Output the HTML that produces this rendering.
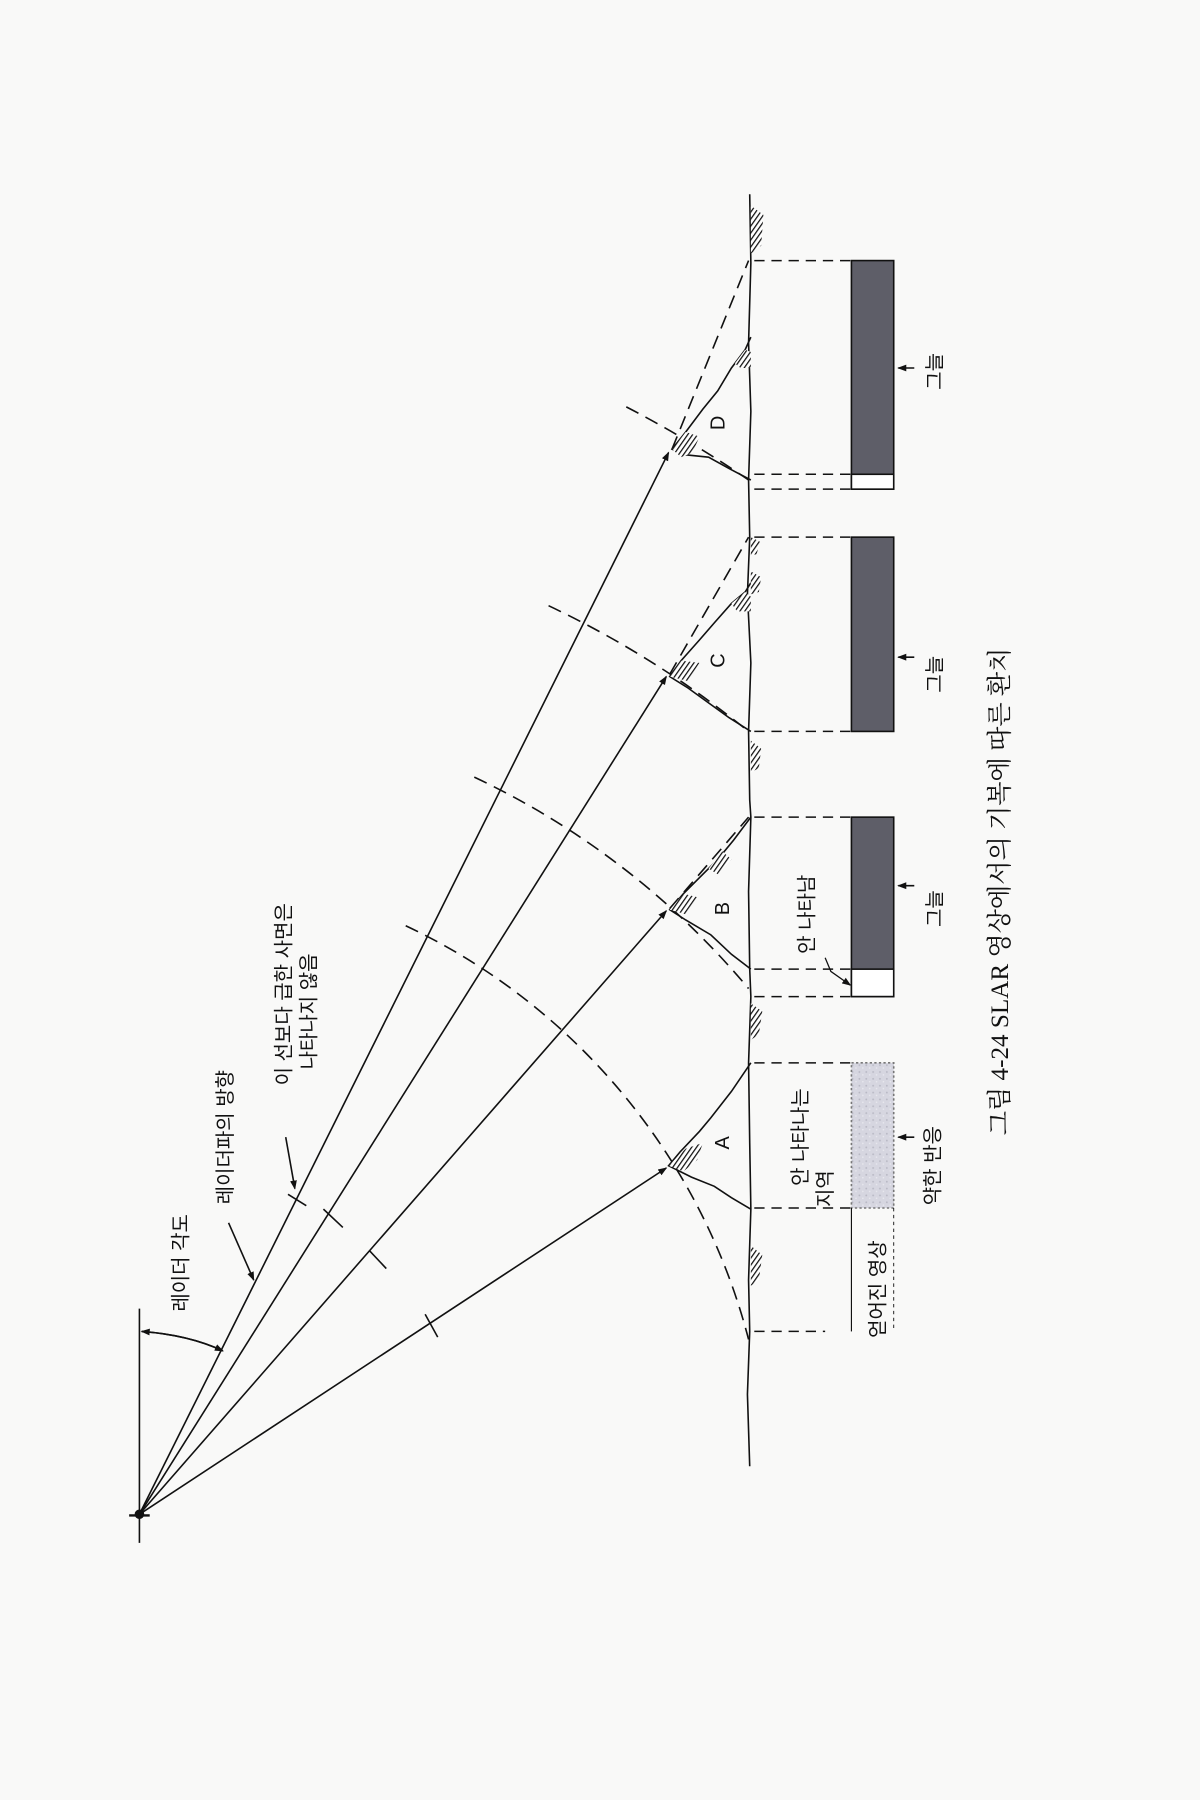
<!DOCTYPE html>
<html><head><meta charset="utf-8"><style>
html,body{margin:0;padding:0;background:#f9f9f8;}
svg{display:block}
text{font-family:"Liberation Sans","Noto Sans CJK KR",sans-serif;fill:#111}
</style></head><body>
<svg width="1200" height="1800" viewBox="0 0 1050 1575" xmlns="http://www.w3.org/2000/svg">
<defs>
<pattern id="h" width="3.5" height="3.5" patternUnits="userSpaceOnUse" patternTransform="rotate(35)">
<rect width="3.5" height="3.5" fill="#fff"/><line x1="0" y1="0" x2="0" y2="3.5" stroke="#111" stroke-width="2.2"/></pattern>
<pattern id="sp" width="6" height="6" patternUnits="userSpaceOnUse">
<rect width="6" height="6" fill="#d6d6e0"/><circle cx="2" cy="2" r="0.8" fill="#b8b8c4"/><circle cx="5" cy="4.5" r="0.7" fill="#e8e8ee"/></pattern>
<marker id="ar" markerWidth="8" markerHeight="8" refX="7" refY="4" orient="auto" markerUnits="userSpaceOnUse"><path d="M0,1 L8,4 L0,7 Z" fill="#111"/></marker>
</defs>
<rect width="1050" height="1575" fill="#f9f9f8"/>
<g stroke="#111" fill="none" stroke-width="1.4">
<polyline points="656,170 657,230 655,300 657,360 655,420 656,470 654,520 657,580 655,640 656,700 657,715 655,780 656,848 657,872 655,930 656,1000 657,1058 655,1120 656,1165 654,1220 656,1283"/>
<polyline points="657,1058 640,1048 625,1038 605,1030 585,1020 595,1008 612,990 622,978 640,955 657,930"/>
<polyline points="657,848 640,835 622,818 600,805 586,796 598,782 612,768 628,752 642,735 657,715"/>
<polyline points="657,640 638,628 620,615 602,602 586,592 596,578 612,560 625,545 640,528 652,518 657,510"/>
<polyline points="657,420 638,410 620,400 600,398 588,393 600,378 615,358 628,342 640,322 652,306 657,295"/>
<line x1="122" y1="1350" x2="122" y2="1145"/>
<line x1="113" y1="1326" x2="131" y2="1326" stroke-width="2"/>
<circle cx="122" cy="1325" r="3.5" fill="#111"/>
<line x1="122" y1="1325" x2="583" y2="1022" marker-end="url(#ar)"/>
<line x1="122" y1="1325" x2="583" y2="797" marker-end="url(#ar)"/>
<line x1="122" y1="1325" x2="583" y2="592" marker-end="url(#ar)"/>
<line x1="122" y1="1325" x2="585" y2="396" marker-end="url(#ar)"/>
<line x1="252" y1="1045" x2="268" y2="1055"/>
<line x1="283" y1="1058" x2="300" y2="1074"/>
<line x1="323" y1="1094" x2="338" y2="1110"/>
<line x1="372" y1="1150" x2="383" y2="1170"/>
<path d="M124,1165 Q165,1168 195,1182" marker-end="url(#ar)"/>
<path d="M195,1182 Q165,1168 124,1165" marker-end="url(#ar)"/>
<line x1="200" y1="1070" x2="222" y2="1120" marker-end="url(#ar)"/>
<line x1="250" y1="995" x2="258" y2="1040" marker-end="url(#ar)"/>
<path d="M722,838 L727,850 L744,862" marker-end="url(#ar)" stroke-width="1.1"/>
<g stroke-dasharray="12,7">
<path d="M355,810 A554,554 0 0 1 655,1172"/>
<path d="M415,680 A704,704 0 0 1 655,865"/>
<path d="M480,530 A869,869 0 0 1 655,640"/>
<path d="M548,356 A1041,1041 0 0 1 655,420"/>
<line x1="586" y1="795" x2="655" y2="715"/>
<line x1="586" y1="590" x2="655" y2="470"/>
<line x1="588" y1="393" x2="655" y2="228"/>
</g>
<g stroke-dasharray="9,6" stroke-width="1.3">
<line x1="660" y1="930" x2="745" y2="930"/><line x1="660" y1="1057" x2="745" y2="1057"/>
<line x1="660" y1="715" x2="745" y2="715"/><line x1="660" y1="848" x2="745" y2="848"/><line x1="660" y1="872" x2="745" y2="872"/>
<line x1="660" y1="470" x2="745" y2="470"/><line x1="660" y1="640" x2="745" y2="640"/>
<line x1="660" y1="228" x2="745" y2="228"/><line x1="660" y1="415" x2="745" y2="415"/><line x1="660" y1="428" x2="745" y2="428"/>
<line x1="660" y1="1165" x2="722" y2="1165"/>
</g>
<rect x="745" y="930" width="37" height="127" fill="url(#sp)" stroke="#777" stroke-dasharray="2,2"/>
<line x1="745" y1="1057" x2="745" y2="1165" stroke-width="1"/>
<line x1="782" y1="1057" x2="782" y2="1165" stroke-width="0.8" stroke-dasharray="3,3"/>
<rect x="745" y="715" width="37" height="157" fill="#5e5e68"/>
<rect x="745" y="848" width="37" height="24" fill="#fff"/>
<rect x="745" y="470" width="37" height="170" fill="#5e5e68"/>
<rect x="745" y="228" width="37" height="200" fill="#5e5e68"/>
<rect x="745" y="415" width="37" height="13" fill="#fff"/>
<line x1="800" y1="995" x2="786" y2="995" marker-end="url(#ar)"/>
<line x1="800" y1="775" x2="786" y2="775" marker-end="url(#ar)"/>
<line x1="800" y1="575" x2="786" y2="575" marker-end="url(#ar)"/>
<line x1="800" y1="322" x2="786" y2="322" marker-end="url(#ar)"/>
</g>
<g fill="url(#h)" stroke="none">
<polygon points="585,1020 600,1005 615,1000 610,1015 598,1025"/>
<polygon points="586,796 598,782 610,785 600,800"/>
<polygon points="620,760 632,745 640,752 628,765"/>
<polygon points="586,592 596,578 612,580 602,596"/>
<polygon points="640,528 652,518 657,522 657,535 645,535"/>
<polygon points="588,393 600,378 612,382 606,396 596,400"/>
<polygon points="643,318 652,306 657,308 657,322 648,322"/>
<polygon points="657,1090 667,1098 664,1120 657,1125"/>
<polygon points="657,878 667,885 664,905 657,910"/>
<polygon points="657,648 666,655 664,672 657,676"/>
<polygon points="657,500 666,505 664,518 657,520"/>
<polygon points="657,180 668,188 666,215 657,222"/>
<polygon points="657,470 665,474 662,485 657,486"/>
</g>
<g font-size="17.5">
<text transform="translate(164,1105) rotate(-90)" text-anchor="middle">레이더 각도</text>
<text transform="translate(203,995) rotate(-90)" text-anchor="middle">레이더파의 방향</text>
<text transform="translate(254,870) rotate(-90)" text-anchor="middle">이 선보다 급한 사면은</text>
<text transform="translate(276,885) rotate(-90)" text-anchor="middle">나타나지 않음</text>
<text transform="translate(638,1000) rotate(-90)" text-anchor="middle">A</text>
<text transform="translate(638,795) rotate(-90)" text-anchor="middle">B</text>
<text transform="translate(634,578) rotate(-90)" text-anchor="middle">C</text>
<text transform="translate(634,370) rotate(-90)" text-anchor="middle">D</text>
<text transform="translate(706,995) rotate(-90)" text-anchor="middle">안 나타나는</text>
<text transform="translate(728,1040) rotate(-90)" text-anchor="middle">지역</text>
<text transform="translate(712,800) rotate(-90)" text-anchor="middle">안 나타남</text>
<text transform="translate(774,1128) rotate(-90)" text-anchor="middle">얻어진 영상</text>
<text transform="translate(822,1020) rotate(-90)" text-anchor="middle">약한 반응</text>
<text transform="translate(824,795) rotate(-90)" text-anchor="middle">그늘</text>
<text transform="translate(824,590) rotate(-90)" text-anchor="middle">그늘</text>
<text transform="translate(824,325) rotate(-90)" text-anchor="middle">그늘</text>
</g>
<text transform="translate(882,780) rotate(-90)" text-anchor="middle" font-size="22" style="font-family:'Liberation Serif','Noto Serif CJK SC',serif">그림 4-24  SLAR 영상에서의 기복에 따른 환치</text>
</svg>
</body></html>
